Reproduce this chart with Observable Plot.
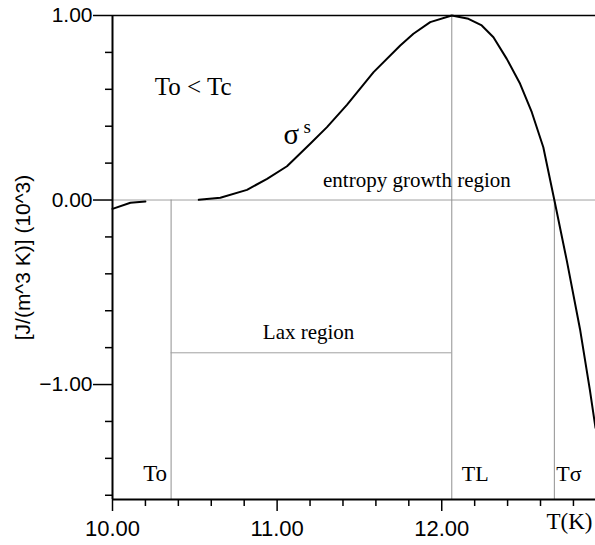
<!DOCTYPE html>
<html><head><meta charset="utf-8">
<script src="https://cdn.jsdelivr.net/npm/d3@7"></script>
<script src="https://cdn.jsdelivr.net/npm/@observablehq/plot@0.6"></script>
<style>body{margin:0;background:#fff}</style>
</head><body><div id="chart"></div>
<script>
// Curve sigma^s(T) (NaN = segment not visible)
const curveT     = [10.0, 10.109, 10.2, 10.3, 10.524, 10.655, 10.817, 10.939, 11.06, 11.201, 11.303, 11.424, 11.586, 11.748, 11.828, 11.93, 12.061, 12.162, 12.243, 12.314, 12.395, 12.476, 12.547, 12.617, 12.684, 12.76, 12.84, 12.90, 12.934];
const curveSigma = [-0.048, -0.015, -0.008, NaN, 0.001, 0.012, 0.055, 0.115, 0.183, 0.305, 0.395, 0.516, 0.693, 0.837, 0.901, 0.964, 1.0, 0.982, 0.946, 0.882, 0.765, 0.63, 0.476, 0.286, 0.0, -0.33, -0.70, -1.03, -1.235];

// Characteristic temperatures
const markerNames = ["To", "TL", "Tσ"];
const markerT     = [10.356, 12.061, 12.684];
const markerTop   = [0, 1, 0];
const laxLevel = -0.828;

// Axes
const xDomain = [10, 12.934];
const yDomain = [-1.623, 1];
const xMajorTicks = [10, 11, 12];
const xMinorTicks = [10.2, 10.4, 10.6, 10.8, 11.2, 11.4, 11.6, 11.8, 12.2, 12.4, 12.6, 12.8];
const yMajorTicks = [-1, 0, 1];
const yMinorTicks = [-1.6, -1.4, -1.2, -0.8, -0.6, -0.4, -0.2, 0.2, 0.4, 0.6, 0.8];
const yLabel = "[J/(m^3 K)] (10^3)";
const xLabel = "T(K)";

// Text annotations in data coordinates
const annotations = [
  {text: "To < Tc", T: 10.49, s: 0.615, size: 25},
  {text: "entropy growth region", T: 11.849, s: 0.106, size: 21},
  {text: "Lax region", T: 11.191, s: -0.718, size: 21}
];
const sigmaLabel = {T: 11.086, s: 0.355};

const curve = curveT.map((t, i) => ({T: t, s: curveSigma[i]}));
const markers = markerNames.map((n, i) => ({name: n, T: markerT[i], top: markerTop[i]}));
const serif = "'Liberation Serif','Times New Roman',serif";
const sans = "'Liberation Sans',Arial,sans-serif";

const chart = Plot.plot({
  width: 595, height: 545,
  marginLeft: 112, marginRight: 0, marginTop: 15, marginBottom: 46,
  style: {background: "#fff", fontFamily: sans},
  x: {domain: xDomain},
  y: {domain: yDomain},
  marks: [
    // gray reference lines
    Plot.ruleY([0], {stroke: "#a0a0a0", strokeWidth: 1}),
    Plot.ruleX(markers, {x: "T", y1: yDomain[0], y2: "top", stroke: "#909090", strokeWidth: 1}),
    Plot.ruleY([laxLevel], {x1: markerT[0], x2: markerT[1], stroke: "#a0a0a0", strokeWidth: 1}),
    // curve
    Plot.line(curve, {x: "T", y: "s", stroke: "#000", strokeWidth: 2, curve: "linear"}),
    // frame lines
    Plot.ruleY([yDomain[1]], {stroke: "#000", strokeWidth: 1.5}),
    Plot.ruleY([yDomain[0]], {stroke: "#000", strokeWidth: 2}),
    Plot.ruleX([xDomain[0]], {stroke: "#000", strokeWidth: 2}),
    // axes
    Plot.axisX(xMajorTicks, {tickSize: 12, tickPadding: 9, tickFormat: d3.format(".2f"), fontSize: 22, label: null, stroke: "#000", strokeWidth: 1.5}),
    Plot.axisX(xMinorTicks, {tickSize: 7, tickFormat: () => "", label: null, strokeWidth: 1.5}),
    Plot.axisY(yMajorTicks, {tickSize: 19, tickPadding: 1, tickFormat: d3.format(".2f"), fontSize: 21,
      label: yLabel, labelAnchor: "center", labelOffset: 97, labelArrow: false, strokeWidth: 1.5}),
    Plot.axisY(yMinorTicks, {tickSize: 7, tickFormat: () => "", label: null, strokeWidth: 1.5}),
    // annotations
    Plot.text(annotations, {x: "T", y: "s", text: "text", fontFamily: serif, fontSize: (d) => d.size, fill: "#000"}),
    Plot.text([sigmaLabel], {x: "T", y: "s", text: () => "σ", fontFamily: serif, fontSize: 29, fill: "#000"}),
    Plot.text([sigmaLabel], {x: "T", y: "s", text: () => "s", fontFamily: serif, fontSize: 19, dx: 16, dy: -8, fill: "#000"}),
    Plot.text(markers.slice(0, 1), {x: "T", text: "name", frameAnchor: "bottom", textAnchor: "end", dx: -4, dy: -19, fontFamily: serif, fontSize: 23, fill: "#000"}),
    Plot.text(markers.slice(1, 2), {x: "T", text: "name", frameAnchor: "bottom", textAnchor: "start", dx: 10, dy: -19, fontFamily: serif, fontSize: 22, fill: "#000"}),
    Plot.text(markers.slice(2, 3), {x: "T", text: "name", frameAnchor: "bottom", textAnchor: "start", dx: 2, dy: -19, fontFamily: serif, fontSize: 22, fill: "#000"}),
    Plot.text([xLabel], {frameAnchor: "bottom-right", textAnchor: "end", dx: -3, dy: 29, fontFamily: serif, fontSize: 23, fill: "#000"})
  ]
});
document.getElementById("chart").appendChild(chart);
</script>
</body></html>
